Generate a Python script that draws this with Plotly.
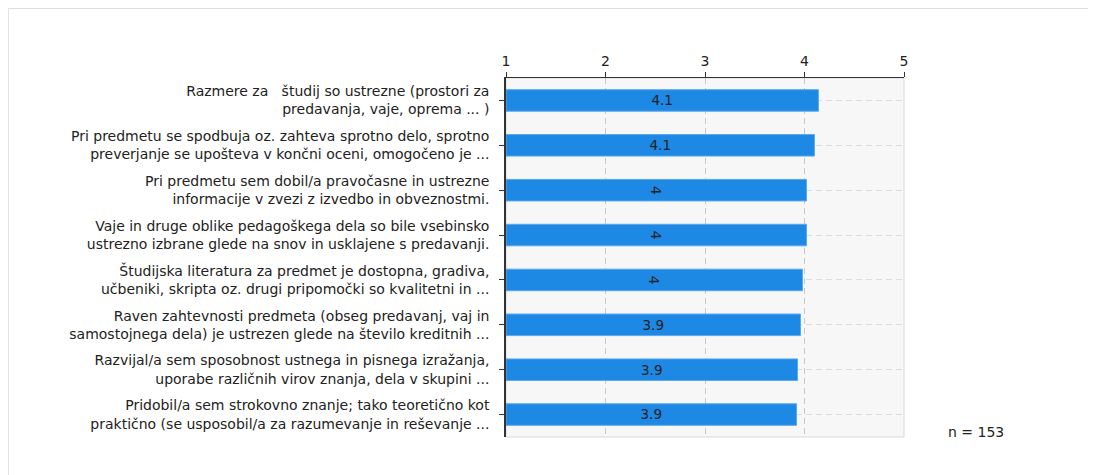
import plotly.graph_objects as go

# survey items (top to bottom)
questions = [
    "Razmere za \u00a0\u00a0študij so ustrezne (prostori za<br>predavanja, vaje, oprema ... )",
    "Pri predmetu se spodbuja oz. zahteva sprotno delo, sprotno<br>preverjanje se upošteva v končni oceni, omogočeno je ...",
    "Pri predmetu sem dobil/a pravočasne in ustrezne<br>informacije v zvezi z izvedbo in obveznostmi.",
    "Vaje in druge oblike pedagoškega dela so bile vsebinsko<br>ustrezno izbrane glede na snov in usklajene s predavanji.",
    "Študijska literatura za predmet je dostopna, gradiva,<br>učbeniki, skripta oz. drugi pripomočki so kvalitetni in ...",
    "Raven zahtevnosti predmeta (obseg predavanj, vaj in<br>samostojnega dela) je ustrezen glede na število kreditnih ...",
    "Razvijal/a sem sposobnost ustnega in pisnega izražanja,<br>uporabe različnih virov znanja, dela v skupini ...",
    "Pridobil/a sem strokovno znanje; tako teoretično kot<br>praktično (se usposobil/a za razumevanje in reševanje ...",
]
means = [4.14, 4.10, 4.02, 4.02, 3.98, 3.96, 3.93, 3.92]
mean_labels = ["4.1", "4.1", "4", "4", "4", "3.9", "3.9", "3.9"]
scale_ticks = [1, 2, 3, 4, 5]
n_respondents = 153

font = "DejaVu Sans, Verdana, sans-serif"

fig = go.Figure()

fig.add_trace(go.Bar(
    y=questions, x=[m - 1 for m in means], base=1, orientation="h",
    width=0.48,
    marker=dict(color="#1e88e5", line=dict(color="#5aa9ef", width=1)),
    text=mean_labels, textposition="inside", insidetextanchor="middle",
    textfont=dict(family=font, size=14, color="#222222"),
    hoverinfo="skip", showlegend=False,
))

# plot frame (light) and outer panel border
fig.add_shape(type="rect", xref="paper", yref="paper", x0=0, x1=1, y0=0, y1=1,
              line=dict(color="#d9d9d9", width=1), layer="below")
fig.add_shape(type="rect", xref="paper", yref="paper", x0=-1.2505, x1=1.52, y0=-0.3, y1=1.1935,
              line=dict(color="#dddddd", width=1), layer="below")

fig.add_annotation(text=f"n = {n_respondents}", xref="paper", yref="paper",
                   x=1.1055, y=0.014, xanchor="left", yanchor="middle", showarrow=False,
                   font=dict(family=font, size=14, color="#222222"))

fig.update_layout(
    width=1096, height=475,
    margin=dict(l=498, r=200, t=70, b=46),
    paper_bgcolor="white", plot_bgcolor="#f7f7f7",
    font=dict(family=font, size=14, color="#222222"),
    xaxis=dict(range=[1, 5], side="top", tickvals=scale_ticks,
               showline=True, linecolor="#333333", linewidth=1,
               ticks="outside", ticklen=5, tickcolor="#333333",
               showgrid=True, gridcolor="#c8c8c8", gridwidth=1, griddash="6px,4px",
               zeroline=False, fixedrange=True),
    yaxis=dict(autorange="reversed", showline=True, linecolor="#333333", linewidth=1.5,
               ticks="outside", ticklen=5, tickcolor="#333333",
               showgrid=True, gridcolor="#dddddd", griddash="6px,4px",
               ticklabelstandoff=7, fixedrange=True),
)

fig.write_html("out.html")
